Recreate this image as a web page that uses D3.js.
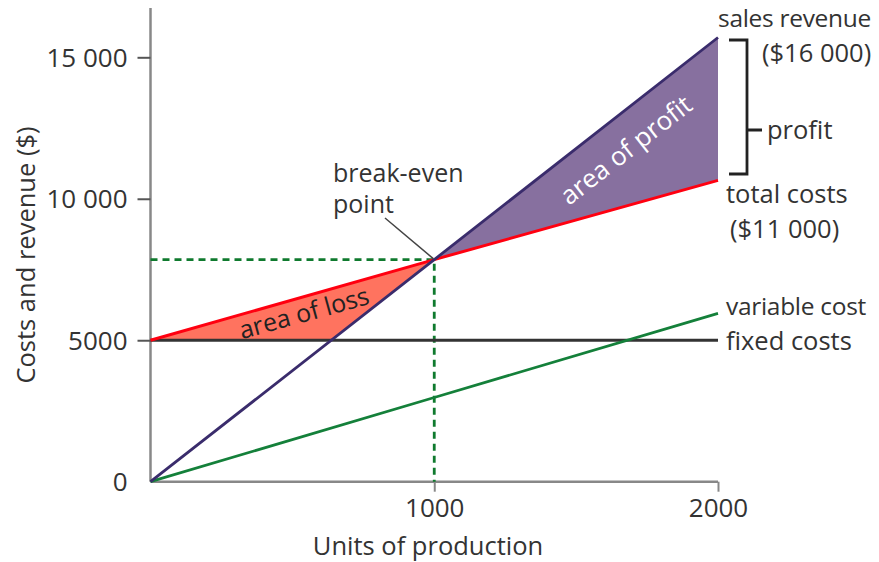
<!DOCTYPE html>
<html><head><meta charset="utf-8">
<script src="https://cdn.jsdelivr.net/npm/d3@7"></script>
<style>body{margin:0;background:#fff}text{font-family:"Open Sans",sans-serif;fill:#333}</style>
</head><body><svg id="c" width="879" height="562"></svg>
<script>
const units = [0, 1000, 2000];
const salesRevenue = [0, 7850, 15700];
const totalCosts = [5000, 7850, 10650];
const fixedCosts = [5000, 5000, 5000];
const variableCost = [0, 2975, 5950];
const breakEven = {units: 1000, value: 7850};
const yTicks = [0, 5000, 10000, 15000];
const yTickLabels = ["0", "5000", "10 000", "15 000"];
const xTicks = [1000, 2000];
const xTickLabels = ["1000", "2000"];

const svg = d3.select("#c");
const x = d3.scaleLinear().domain([0, 2000]).range([150.5, 718]);
const y = d3.scaleLinear().domain([0, 15000]).range([481.7, 57.3]);
const TFS = 26;   // tick labels
const FS = 25.5;  // annotations

// fills
const lossEndUnits = fixedCosts[0] / salesRevenue[2] * 2000;
const profitPts = [[breakEven.units, breakEven.value],[2000, salesRevenue[2]],[2000, totalCosts[2]]];
const lossPts = [[0, totalCosts[0]],[breakEven.units, breakEven.value],[lossEndUnits, fixedCosts[0]],[0, fixedCosts[0]]];
const poly = d3.line().x(d=>x(d[0])).y(d=>y(d[1]));
svg.append("path").attr("d", poly(profitPts)+"Z").attr("fill","#87709f");
svg.append("path").attr("d", poly(lossPts)+"Z").attr("fill","#ff735f");

// axes
const yAxis = d3.axisLeft(y).tickValues(yTicks.filter(v=>v>0)).tickFormat((d)=>yTickLabels[yTicks.indexOf(d)]).tickSize(13).tickPadding(10);
const gy = svg.append("g").attr("transform",`translate(${x(0)},0)`).call(yAxis);
gy.select(".domain").attr("d", `M0,${y(0)}V8`).attr("stroke","#888").attr("stroke-width",2.5);
gy.selectAll(".tick line").attr("stroke","#555").attr("stroke-width",2);
gy.selectAll(".tick text").attr("font-size",TFS).attr("font-family","Open Sans").attr("fill","#333").attr("dy","0.35em");
svg.append("text").attr("x", x(0)-23).attr("y", y(0)).attr("dy","0.35em").attr("text-anchor","end").attr("font-size",TFS).text(yTickLabels[0]);

const xAxis = d3.axisBottom(x).tickValues(xTicks).tickFormat((d,i)=>xTickLabels[i]).tickSize(10).tickPadding(7);
const gx = svg.append("g").attr("transform",`translate(0,${y(0)})`).call(xAxis);
gx.select(".domain").attr("d", `M${x(0)},0H${x(2000)}`).attr("stroke","#888").attr("stroke-width",2.5);
gx.selectAll(".tick line").attr("stroke","#888").attr("stroke-width",2);
gx.selectAll(".tick text").attr("font-size",TFS).attr("font-family","Open Sans").attr("fill","#333");

// axis titles
svg.append("text").attr("transform",`translate(35,255) rotate(-90)`).attr("text-anchor","middle").attr("font-size",FS).text("Costs and revenue ($)");
svg.append("text").attr("x", 428).attr("y", 555).attr("text-anchor","middle").attr("font-size",FS).text("Units of production");

// dashed break-even guides
svg.append("path").attr("d", `M${x(0)},${y(breakEven.value)}H${x(breakEven.units)}V${y(0)}`)
  .attr("fill","none").attr("stroke","#0f7a2e").attr("stroke-width",2.8).attr("stroke-dasharray","7,5");

// lines
const line = d3.line().x((d,i)=>x(units[i])).y(d=>y(d));
svg.append("path").attr("d", line(fixedCosts)).attr("fill","none").attr("stroke","#333").attr("stroke-width",3.2);
svg.append("path").attr("d", line(variableCost)).attr("fill","none").attr("stroke","#14803a").attr("stroke-width",2.8);
svg.append("path").attr("d", line(totalCosts)).attr("fill","none").attr("stroke","#ff0010").attr("stroke-width",3);
svg.append("path").attr("d", line(salesRevenue)).attr("fill","none").attr("stroke","#3a2c6c").attr("stroke-width",2.8);

// break-even annotation
svg.append("path").attr("d", `M385,218L${x(breakEven.units)-1},${y(breakEven.value)-1}`).attr("stroke","#444").attr("stroke-width",1.5);
svg.append("text").attr("x",333).attr("y",182).attr("font-size",FS-0.5).text("break-even");
svg.append("text").attr("x",333).attr("y",213).attr("font-size",FS-0.5).text("point");

// area labels
svg.append("text").attr("transform",`translate(626,150) rotate(-38)`).attr("text-anchor","middle").attr("dy","0.35em").attr("font-size",26).style("fill","#fff").text("area of profit");
svg.append("text").attr("transform",`translate(304,313) rotate(-15.5)`).attr("text-anchor","middle").attr("dy","0.35em").attr("font-size",25).style("fill","#222").text("area of loss");

// right labels
const rl = [["sales revenue",718,27,24.5],["($16 000)",762,62,FS],["total costs",726,203,FS],["($11 000)",730,238,FS],["variable cost",726,315,24.5],["fixed costs",726,350,FS]];
rl.forEach(d=>svg.append("text").attr("x",d[1]).attr("y",d[2]).attr("font-size",d[3]).attr("letter-spacing", d[3]<FS ? "-0.3px" : null).text(d[0]));
svg.append("text").attr("x",767).attr("y",130).attr("dy","0.35em").attr("font-size",FS).text("profit");

// bracket
svg.append("path").attr("d","M729,40H747V174H729M747,130H762").attr("fill","none").attr("stroke","#222").attr("stroke-width",2.8);
</script></body></html>
